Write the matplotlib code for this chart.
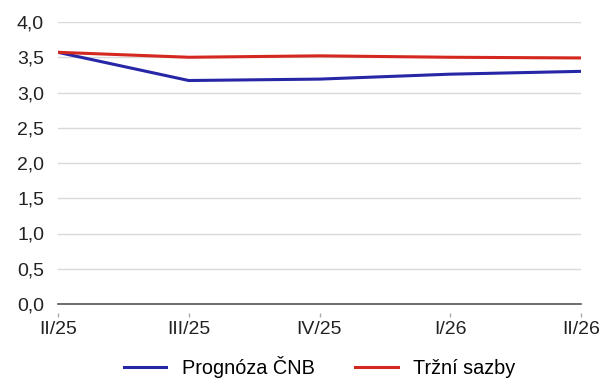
import matplotlib.pyplot as plt

plt.rcParams['font.family'] = ['Liberation Sans', 'DejaVu Sans']

quarters = ["II/25", "III/25", "IV/25", "I/26", "II/26"]
prognoza_cnb = [3.57, 3.17, 3.19, 3.26, 3.30]
trzni_sazby = [3.57, 3.50, 3.52, 3.50, 3.49]

fig = plt.figure(figsize=(6.01, 3.81), dpi=100)
ax = fig.add_axes([58 / 601, 1 - 304 / 381, (581 - 58) / 601, (304 - 22) / 381])

x = range(len(quarters))
ax.plot(x, prognoza_cnb, color="#2626a6", linewidth=2.2, label="Prognóza ČNB", zorder=3)
ax.plot(x, trzni_sazby, color="#d4271f", linewidth=2.2, label="Tržní sazby", zorder=3)

ax.set_xlim(0, len(quarters) - 1)
ax.set_ylim(0, 4.0)
ax.set_yticks([i * 0.5 for i in range(9)])
ax.set_yticklabels([f"{i * 0.5:.1f}".replace(".", ",") for i in range(9)])
ax.set_xticks(list(x))
ax.set_xticklabels(quarters)

ax.grid(axis="y", color="#d9d9d9", linewidth=1)
ax.set_axisbelow(True)
# zero line drawn as the axis; ticks sit a bit below it
ax.axhline(0, color="#555555", linewidth=1.2, zorder=2, clip_on=False)
for side in ("top", "right", "left", "bottom"):
    ax.spines[side].set_visible(False)
ax.spines["bottom"].set_position(("outward", 6.5))

ax.tick_params(axis="y", length=0, pad=10, labelsize=14, labelcolor="#222222")
ax.tick_params(axis="x", length=3, width=1, color="#aaaaaa", pad=3, labelsize=14,
               labelcolor="#222222")

ax.legend(loc="center", bbox_to_anchor=(0.532, 0.036), bbox_transform=fig.transFigure,
          ncol=2, frameon=False, fontsize=14.3, handlelength=2.15, columnspacing=2.0,
          handletextpad=0.8, borderpad=0.2)

fig.savefig("out.png", dpi=100)
